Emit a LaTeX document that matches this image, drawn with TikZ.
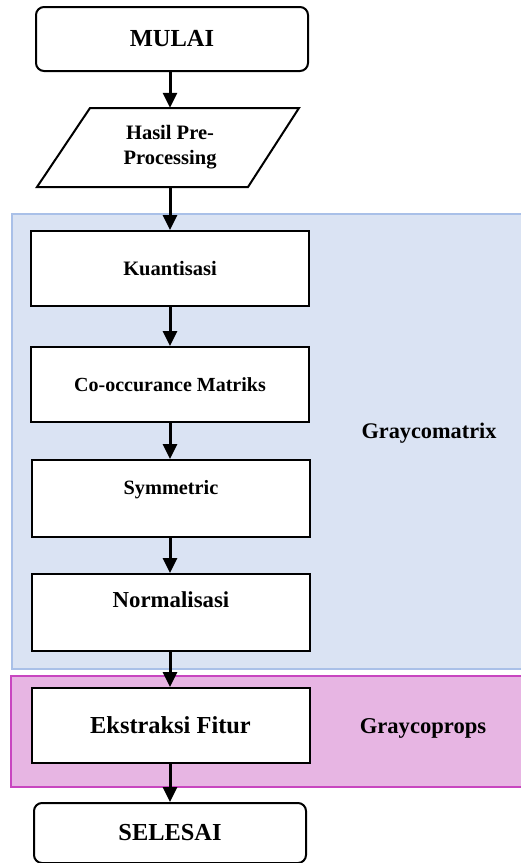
\documentclass[tikz,border=0pt]{standalone}
\usepackage{fontspec}
\setmainfont{Liberation Serif}
\usetikzlibrary{arrows.meta}
\definecolor{bluefill}{HTML}{DAE3F3}
\definecolor{blueline}{HTML}{A9C0E8}
\definecolor{pinkfill}{HTML}{E7B5E3}
\definecolor{pinkline}{HTML}{C846C0}
\newcommand{\fsz}[1]{\fontsize{#1}{#1}\selectfont\bfseries}
\tikzset{
  procbox/.style={draw=black, line width=2pt, fill=white, minimum width=278pt, inner sep=0pt},
  termbox/.style={draw=black, line width=2pt, fill=white, rounded corners=8pt, minimum width=272pt, inner sep=0pt},
  flow/.style={line width=3pt, -{Triangle[width=14pt,length=15pt]}},
  lbl/.style={inner sep=0pt, text=black}
}
\begin{document}
\begin{tikzpicture}[x=1pt, y=-1pt]
\useasboundingbox (0,0) rectangle (521,863);
% regions
\draw[draw=blueline, line width=1.5pt, fill=bluefill] (12,214) rectangle (521.5,669);
\draw[draw=pinkline, line width=2pt, fill=pinkfill] (11,676) rectangle (522,787);
% terminals
\node[termbox, minimum height=64pt] (start) at (172,39) {\fsz{24.5}MULAI};
% parallelogram
\draw[line width=2pt, fill=white] (90,108) -- (299,108) -- (248,187) -- (37,187) -- cycle;
\node[lbl, minimum height=79pt, align=center, font={\fontsize{20.5}{25}\selectfont\bfseries}] (para) at (170,147.5) {Hasil Pre-\\Processing};
% processes
\node[procbox, minimum height=75pt] (kuant) at (170,268.5) {\fsz{20.5}Kuantisasi};
\node[procbox, minimum height=75pt] (cooc) at (170,384.5) {\fsz{20}Co-occurance Matriks};
\node[procbox, minimum height=77pt,
  label={[lbl, yshift=8.5pt]center:\fsz{20.3}Symmetric}] (sym) at (171,498.5) {};
\node[procbox, minimum height=77pt,
  label={[lbl, yshift=12.5pt]center:\fsz{22.8}Normalisasi}] (norm) at (171,612.5) {};
\node[procbox, minimum height=75pt] (ekst) at (170.5,725.5) {\raisebox{-3pt}{\fsz{24.4}Ekstraksi Fitur}};
\node[termbox, minimum height=60pt] (end) at (170,833) {\fsz{24.4}SELESAI};
% region labels
\node[lbl] (gcm) at (429,433) {\fsz{22.3}Graycomatrix};
\node[lbl] (gcp) at (423,728) {\fsz{22.6}Graycoprops};
% connectors
\draw[flow] (start.south -| para.north) -- (para.north);
\draw[flow] (para.south) -- (para.south |- kuant.north);
\draw[flow] (kuant.south) -- (kuant.south |- cooc.north);
\draw[flow] (cooc.south) -- (cooc.south |- sym.north);
\draw[flow] (cooc.south |- sym.south) -- (cooc.south |- norm.north);
\draw[flow] (cooc.south |- norm.south) -- (cooc.south |- ekst.north);
\draw[flow] (cooc.south |- ekst.south) -- (cooc.south |- end.north);
\end{tikzpicture}
\end{document}
